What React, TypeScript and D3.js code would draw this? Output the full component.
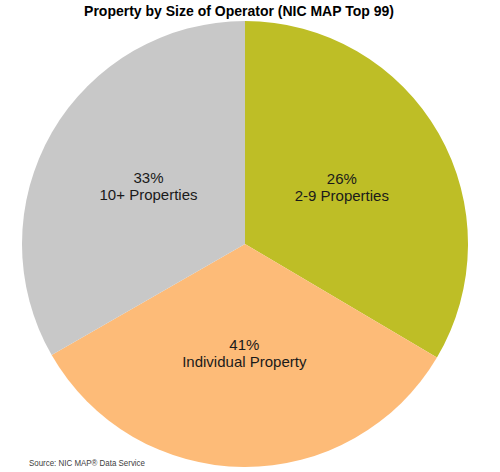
import React from "react";
import * as d3 from "d3";

const categories = ["2-9 Properties", "Individual Property", "10+ Properties"];
const sliceValues = [33.5, 33.2, 33.3];
const percentLabels = ["26%", "41%", "33%"];
const colors = ["#BEBE26", "#FDBB78", "#C8C8C8"];

const W = 500;
const H = 472;

export default function App() {
  const cx = 245;
  const cy = 244;
  const r = 223;
  const pie = d3
    .pie<number>()
    .sort(null)
    .value((d) => d)
    .startAngle(0)
    .endAngle(2 * Math.PI);
  const arcs = pie(sliceValues);
  const arc = d3.arc<d3.PieArcDatum<number>>().innerRadius(0).outerRadius(r);
  const font = "Arial, 'Liberation Sans', sans-serif";
  return (
    <svg
      width={W}
      height={H}
      style={{ position: "absolute", left: 0, top: 0, background: "#fff" }}
    >
      <text
        x={239}
        y={16}
        textAnchor="middle"
        fontFamily={font}
        fontWeight="bold"
        fontSize={14}
        fill="#000"
      >
        Property by Size of Operator (NIC MAP Top 99)
      </text>
      <g transform={`translate(${cx},${cy})`}>
        {arcs.map((a, i) => (
          <path key={i} d={arc(a) || ""} fill={colors[i]} />
        ))}
        {arcs.map((a, i) => {
          const [x, y] = arc.centroid(a);
          return (
            <text
              key={"t" + i}
              x={x}
              y={y}
              textAnchor="middle"
              fontFamily={font}
              fontSize={15}
              fill="#1a1a1a"
            >
              <tspan x={x} dy={-5}>
                {percentLabels[i]}
              </tspan>
              <tspan x={x} dy={17}>
                {categories[i]}
              </tspan>
            </text>
          );
        })}
      </g>
      <text
        x={29}
        y={466}
        fontFamily={font}
        fontSize={9.5}
        fill="#404040"
        textLength={116}
        lengthAdjust="spacingAndGlyphs"
      >
        Source: NIC MAP® Data Service
      </text>
    </svg>
  );
}
